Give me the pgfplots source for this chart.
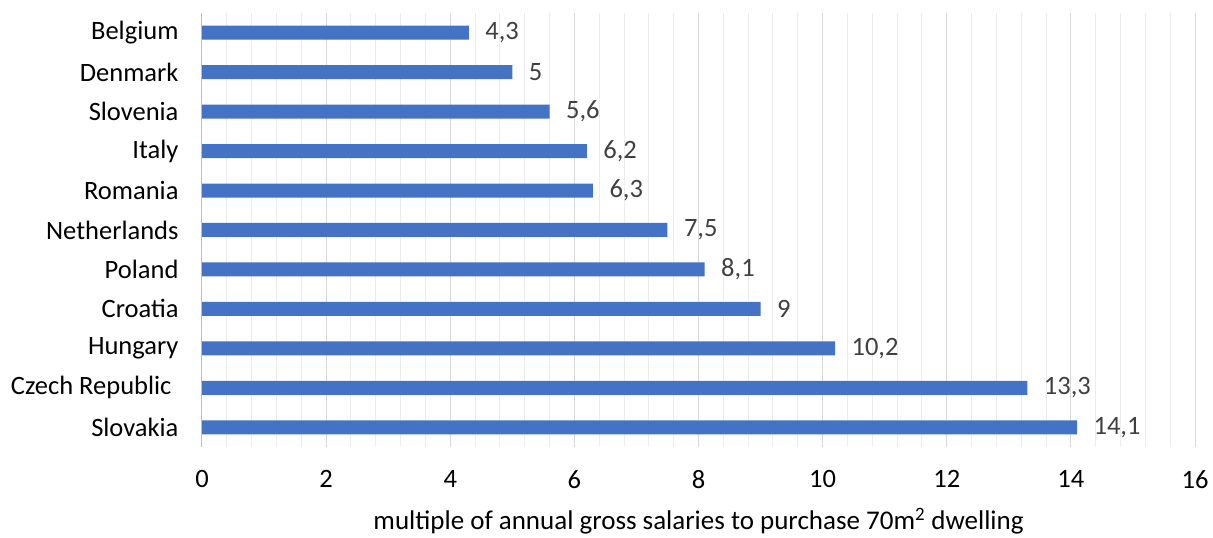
\documentclass[border=0pt]{standalone}
\usepackage{pgfplots}
\pgfplotsset{compat=1.18}
\usepackage{fontspec}
\setmainfont{Carlito}
\definecolor{barblue}{HTML}{4472C4}
\definecolor{lbl}{HTML}{404040}
\definecolor{majgrid}{HTML}{D9D9D9}
\definecolor{mingrid}{HTML}{EDEDED}
\begin{document}
\begin{tikzpicture}
\begin{axis}[
  scale only axis,
  width=993pt, height=434pt,
  xbar, bar width=14pt,
  xmin=0, xmax=16,
  ymin=-0.5, ymax=10.5,
  xtick={0,2,...,16},
  minor x tick num=4,
  ytick={0,...,10},
  yticklabels={Slovakia,Czech Republic\kern7pt,Hungary,Croatia,Poland,Netherlands,Romania,Italy,Slovenia,Denmark,Belgium},
  xmajorgrids, xminorgrids,
  major grid style={majgrid, line width=1pt},
  minor grid style={mingrid, line width=1pt},
  axis line style={draw=none},
  axis y line*=left,
  axis x line*=bottom,
  tick style={draw=none},
  major tick length=0pt, minor tick length=0pt,
  /pgf/number format/assume math mode=true,
  ticklabel style={font=\fontsize{26.5}{31}\selectfont, text=black},
  xticklabel style={yshift=-20pt},
  yticklabel style={xshift=-20pt},
  xlabel={multiple of annual gross salaries to purchase 70m\textsuperscript{2} dwelling},
  xlabel style={font=\fontsize{27}{31}\selectfont, yshift=-13pt},
  nodes near coords,
  nodes near coords style={font=\fontsize{26.5}{31}\selectfont, text=lbl, anchor=west, xshift=13pt,
    /pgf/number format/use comma, /pgf/number format/assume math mode=true},
  clip=false,
]
\addplot[fill=barblue, draw=none] coordinates {
(14.1,0) (13.3,1) (10.2,2) (9,3) (8.1,4) (7.5,5) (6.3,6) (6.2,7) (5.6,8) (5,9) (4.3,10)
};
\draw[majgrid!70!gray, line width=1pt] (axis cs:0,-0.5) -- (axis cs:0,10.5);
\end{axis}
\path[use as bounding box] ([xshift=-202pt,yshift=-87pt]current axis.south west) rectangle ([xshift=18pt,yshift=13pt]current axis.north east);
\end{tikzpicture}
\end{document}
